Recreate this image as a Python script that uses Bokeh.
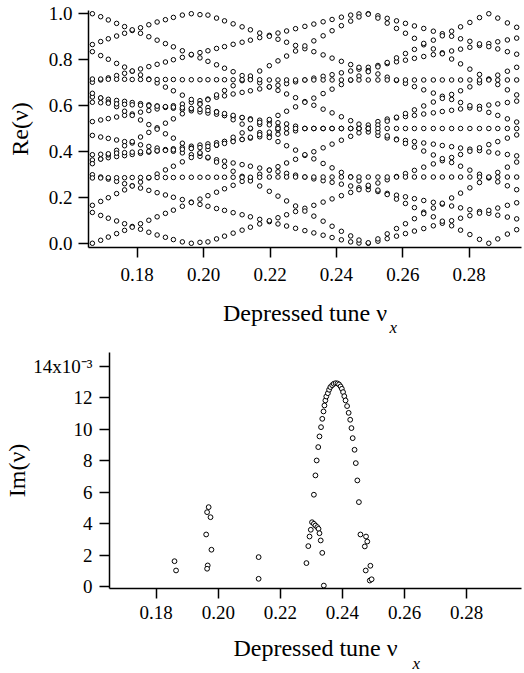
from bokeh.plotting import figure
from bokeh.models import FixedTicker, PrintfTickFormatter, Range1d, Title
from bokeh.embed import file_html
from bokeh.resources import INLINE

FONT = "Liberation Serif"

# ---------------- top panel data: Re(nu) vs depressed tune ----------------
tune_grid = [0.1665, 0.1690, 0.1713, 0.1738, 0.1762, 0.1785, 0.1810, 0.1835, 0.1860, 0.1885,
             0.1909, 0.1936, 0.1963, 0.1989, 0.2013, 0.2039, 0.2063, 0.2089, 0.2116, 0.2141,
             0.2169, 0.2198, 0.2224, 0.2250, 0.2277, 0.2305, 0.2332, 0.2360, 0.2387, 0.2415,
             0.2443, 0.2468, 0.2496, 0.2525, 0.2553, 0.2581, 0.2608, 0.2635, 0.2663, 0.2692,
             0.2719, 0.2747, 0.2774, 0.2802, 0.2831, 0.2859, 0.2886, 0.2915, 0.2943]

re_mode2a = [0.363, 0.368, 0.373, 0.378, 0.382, 0.387, 0.392, 0.397, 0.402, 0.407,
             0.412, 0.417, 0.423, 0.428, 0.433, 0.438, 0.443, 0.448, 0.453, 0.458,
             0.464, 0.470, 0.475, 0.480, 0.490, 0.500, 0.500, 0.500, 0.500, 0.500,
             0.500, 0.500, 0.515, 0.530, 0.541, 0.546, 0.552, 0.557, 0.563, 0.568,
             0.574, 0.579, 0.585, 0.590, 0.596, 0.602, 0.607, 0.613, 0.619]
re_mode2b = [0.637, 0.632, 0.627, 0.622, 0.618, 0.613, 0.608, 0.603, 0.598, 0.593,
             0.588, 0.583, 0.577, 0.572, 0.567, 0.562, 0.557, 0.552, 0.547, 0.542,
             0.536, 0.530, 0.525, 0.520, 0.510, 0.500, 0.500, 0.500, 0.500, 0.500,
             0.500, 0.500, 0.485, 0.470, 0.459, 0.454, 0.448, 0.443, 0.437, 0.432,
             0.426, 0.421, 0.415, 0.410, 0.404, 0.398, 0.393, 0.387, 0.381]
re_mode3a = [0.530, 0.537, 0.543, 0.550, 0.557, 0.563, 0.571, 0.578, 0.585, 0.592,
             0.599, 0.606, 0.614, 0.621, 0.628, 0.636, 0.642, 0.650, 0.657, 0.664,
             0.672, 0.681, 0.688, 0.695, 0.703, 0.711, 0.719, 0.727, 0.734, 0.742,
             0.750, 0.758, 0.766, 0.774, 0.782, 0.790, 0.797, 0.805, 0.813, 0.821,
             0.829, 0.837, 0.845, 0.853, 0.861, 0.869, 0.877, 0.885, 0.893]
re_mode3b = [0.470, 0.463, 0.457, 0.450, 0.443, 0.437, 0.429, 0.422, 0.415, 0.408,
             0.401, 0.394, 0.386, 0.379, 0.372, 0.364, 0.358, 0.350, 0.343, 0.336,
             0.328, 0.319, 0.312, 0.305, 0.297, 0.289, 0.281, 0.273, 0.266, 0.258,
             0.250, 0.242, 0.234, 0.226, 0.218, 0.210, 0.203, 0.195, 0.187, 0.179,
             0.171, 0.163, 0.155, 0.147, 0.139, 0.131, 0.123, 0.115, 0.107]
re_mode4a = [0.701, 0.711, 0.720, 0.730, 0.740, 0.749, 0.759, 0.769, 0.779, 0.789,
             0.799, 0.809, 0.820, 0.830, 0.838, 0.848, 0.856, 0.866, 0.875, 0.884,
             0.895, 0.905, 0.915, 0.924, 0.934, 0.944, 0.954, 0.964, 0.974, 0.984,
             0.993, 0.998, 0.999, 0.010, 0.021, 0.032, 0.043, 0.054, 0.065, 0.077,
             0.088, 0.099, 0.110, 0.121, 0.132, 0.144, 0.154, 0.166, 0.177]
re_mode4b = [0.299, 0.289, 0.280, 0.270, 0.260, 0.251, 0.241, 0.231, 0.221, 0.211,
             0.201, 0.191, 0.180, 0.170, 0.162, 0.152, 0.144, 0.134, 0.125, 0.116,
             0.105, 0.095, 0.085, 0.076, 0.066, 0.056, 0.046, 0.036, 0.026, 0.016,
             0.007, 0.002, 0.001, 0.990, 0.979, 0.968, 0.957, 0.946, 0.935, 0.923,
             0.912, 0.901, 0.890, 0.879, 0.868, 0.856, 0.846, 0.834, 0.823]
re_mode5a = [0.865, 0.878, 0.890, 0.902, 0.914, 0.926, 0.938, 0.951, 0.963, 0.973,
             0.983, 0.993, 0.999, 0.995, 0.007, 0.020, 0.032, 0.045, 0.058, 0.071,
             0.085, 0.099, 0.112, 0.125, 0.139, 0.153, 0.166, 0.180, 0.194, 0.208,
             0.222, 0.234, 0.248, 0.263, 0.277, 0.291, 0.304, 0.318, 0.332, 0.346,
             0.360, 0.374, 0.387, 0.401, 0.416, 0.430, 0.443, 0.458, 0.472]
re_mode5b = [0.135, 0.122, 0.110, 0.098, 0.086, 0.074, 0.062, 0.049, 0.037, 0.027,
             0.017, 0.007, 0.001, 0.005, 0.993, 0.980, 0.968, 0.955, 0.942, 0.929,
             0.915, 0.901, 0.888, 0.875, 0.861, 0.847, 0.834, 0.820, 0.806, 0.792,
             0.778, 0.766, 0.752, 0.737, 0.723, 0.709, 0.696, 0.682, 0.668, 0.654,
             0.640, 0.626, 0.613, 0.599, 0.584, 0.570, 0.557, 0.542, 0.528]
re_mode6a = [0.999, 0.014, 0.028, 0.043, 0.057, 0.071, 0.086, 0.101, 0.116, 0.131,
             0.145, 0.162, 0.178, 0.193, 0.208, 0.223, 0.238, 0.253, 0.270, 0.285,
             0.301, 0.319, 0.334, 0.350, 0.366, 0.383, 0.399, 0.416, 0.432, 0.449,
             0.466, 0.481, 0.498, 0.515, 0.532, 0.549, 0.565, 0.581, 0.598, 0.615,
             0.631, 0.648, 0.664, 0.681, 0.699, 0.715, 0.732, 0.749, 0.766]
re_mode6b = [0.001, 0.986, 0.972, 0.957, 0.943, 0.929, 0.914, 0.899, 0.884, 0.869,
             0.855, 0.838, 0.822, 0.807, 0.792, 0.777, 0.762, 0.747, 0.730, 0.715,
             0.699, 0.681, 0.666, 0.650, 0.634, 0.617, 0.601, 0.584, 0.568, 0.551,
             0.534, 0.519, 0.502, 0.485, 0.468, 0.451, 0.435, 0.419, 0.402, 0.385,
             0.369, 0.352, 0.336, 0.319, 0.301, 0.285, 0.268, 0.251, 0.234]
re_mode7a = [0.166, 0.183, 0.199, 0.217, 0.233, 0.250, 0.267, 0.285, 0.302, 0.320,
             0.336, 0.355, 0.374, 0.392, 0.409, 0.427, 0.444, 0.462, 0.481, 0.499,
             0.518, 0.539, 0.557, 0.575, 0.594, 0.614, 0.632, 0.652, 0.671, 0.691,
             0.710, 0.728, 0.747, 0.768, 0.787, 0.807, 0.826, 0.844, 0.864, 0.884,
             0.903, 0.923, 0.942, 0.961, 0.982, 0.001, 0.020, 0.041, 0.060]
re_mode7b = [0.834, 0.817, 0.801, 0.783, 0.767, 0.750, 0.733, 0.715, 0.698, 0.680,
             0.664, 0.645, 0.626, 0.608, 0.591, 0.573, 0.556, 0.538, 0.519, 0.501,
             0.482, 0.461, 0.443, 0.425, 0.406, 0.386, 0.368, 0.348, 0.329, 0.309,
             0.290, 0.272, 0.253, 0.232, 0.213, 0.193, 0.174, 0.156, 0.136, 0.116,
             0.097, 0.077, 0.058, 0.039, 0.018, 0.999, 0.980, 0.959, 0.940]
re_mode8a = [0.347, 0.367, 0.385, 0.405, 0.425, 0.443, 0.463, 0.483, 0.503, 0.523,
             0.542, 0.564, 0.585, 0.606, 0.625, 0.646, 0.665, 0.686, 0.708, 0.728,
             0.750, 0.773, 0.794, 0.815, 0.837, 0.859, 0.881, 0.903, 0.925, 0.947,
             0.967, 0.985, 0.997, 0.020, 0.042, 0.065, 0.086, 0.108, 0.130, 0.154,
             0.175, 0.198, 0.219, 0.242, 0.265, 0.287, 0.309, 0.332, 0.354]
re_mode8b = [0.653, 0.633, 0.615, 0.595, 0.575, 0.557, 0.537, 0.517, 0.497, 0.477,
             0.458, 0.436, 0.415, 0.394, 0.375, 0.354, 0.335, 0.314, 0.292, 0.272,
             0.250, 0.227, 0.206, 0.185, 0.163, 0.141, 0.119, 0.097, 0.075, 0.053,
             0.033, 0.015, 0.003, 0.980, 0.958, 0.935, 0.914, 0.892, 0.870, 0.846,
             0.825, 0.802, 0.781, 0.758, 0.735, 0.713, 0.691, 0.668, 0.646]
re_flat_a = [0.614, 0.612, 0.610, 0.607, 0.605, 0.603, 0.601, 0.599, 0.597, 0.595,
             0.593, 0.590, 0.587, 0.583, 0.578, 0.572, 0.565, 0.557, 0.548, 0.538,
             0.527, 0.516, 0.506] + [None] * 26
re_flat_b = [0.386, 0.388, 0.390, 0.393, 0.395, 0.397, 0.399, 0.401, 0.403, 0.405,
             0.407, 0.410, 0.413, 0.417, 0.422, 0.428, 0.435, 0.443, 0.452, 0.462,
             0.473, 0.484, 0.494] + [None] * 26
re_row_hi = [0.715, 0.715, 0.714, 0.714, 0.714, 0.713, 0.713, 0.713, 0.713, 0.713,
             0.713, 0.712, 0.712, 0.712, 0.712, 0.712, 0.712, 0.712, 0.712, 0.712,
             0.712, 0.711, 0.711, 0.711, 0.711, 0.711, 0.711, 0.711, 0.711, 0.711,
             0.711, 0.711, 0.711, 0.711, 0.711, 0.711, 0.711, 0.711, 0.711, 0.711,
             0.711, 0.711, 0.711, 0.711, 0.711, 0.711, 0.711, 0.711, 0.711]
re_row_lo = [0.285, 0.285, 0.286, 0.286, 0.286, 0.287, 0.287, 0.287, 0.287, 0.287,
             0.287, 0.288, 0.288, 0.288, 0.288, 0.288, 0.288, 0.288, 0.288, 0.288,
             0.288, 0.289, 0.289, 0.289, 0.289, 0.289, 0.289, 0.289, 0.289, 0.289,
             0.289, 0.289, 0.289, 0.289, 0.289, 0.289, 0.289, 0.289, 0.289, 0.289,
             0.289, 0.289, 0.289, 0.289, 0.289, 0.289, 0.289, 0.289, 0.289]
re_row_mid = [None] * 22 + [0.500, 0.500, 0.500, 0.500, 0.500, 0.500, 0.500, 0.500, 0.500,
              0.500, 0.500, 0.500, 0.500, 0.500, 0.500, 0.500, 0.500, 0.500, 0.500,
              0.500, 0.500, 0.500, 0.500, 0.500, 0.500, 0.500, 0.500]

re_series = [re_mode2a, re_mode2b, re_mode3a, re_mode3b, re_mode4a, re_mode4b,
             re_mode5a, re_mode5b, re_mode6a, re_mode6b, re_mode7a, re_mode7b,
             re_mode8a, re_mode8b, re_flat_a, re_flat_b, re_row_hi, re_row_lo, re_row_mid]

# ---------------- bottom panel data: Im(nu) (units of 1e-3) ----------------
im_tune = [0.1859, 0.1864,
           0.1969, 0.1964, 0.1975, 0.1961, 0.1978, 0.1966, 0.1964,
           0.2130, 0.2130,
           0.2284, 0.2290, 0.2294, 0.2298, 0.2302, 0.2308, 0.2313, 0.2319, 0.2323,
           0.2326, 0.2330, 0.2335, 0.2340,
           0.2308, 0.2313, 0.2317, 0.2322, 0.2326, 0.2331, 0.2335, 0.2339, 0.2342,
           0.2345, 0.2348, 0.2353, 0.2357, 0.2361, 0.2367, 0.2372, 0.2378, 0.2384,
           0.2389, 0.2394, 0.2398, 0.2402, 0.2406, 0.2410, 0.2415, 0.2420, 0.2425,
           0.2429, 0.2433, 0.2439, 0.2443, 0.2448, 0.2453,
           0.2458, 0.2476, 0.2480, 0.2472, 0.2490, 0.2475, 0.2488, 0.2494]
im_value = [1.61, 1.02,
            5.05, 4.73, 4.41, 3.31, 2.34, 1.34, 1.13,
            1.87, 0.49,
            1.49, 2.57, 3.18, 3.61, 4.09, 3.99, 3.88, 3.78, 3.67,
            3.39, 2.93, 2.14, 0.06,
            5.84, 7.07, 8.02, 8.87, 9.55, 10.14, 10.67, 11.14, 11.52,
            11.84, 12.09, 12.30, 12.52, 12.69, 12.81, 12.90, 12.94, 12.92,
            12.86, 12.73, 12.58, 12.37, 12.11, 11.84, 11.48, 11.05, 10.61,
            10.08, 9.44, 8.70, 7.85, 6.75, 5.37,
            3.31, 3.18, 2.86, 2.55, 1.32, 1.02, 0.38, 0.46]

x_ticks = [0.18, 0.20, 0.22, 0.24, 0.26, 0.28]
re_ticks = [0.0, 0.2, 0.4, 0.6, 0.8, 1.0]
im_ticks = [0, 2, 4, 6, 8, 10, 12, 14]


def style_axes(p):
    for ax in (p.xaxis[0], p.yaxis[0]):
        ax.axis_line_width = 1.5
        ax.axis_line_color = "black"
        ax.major_tick_line_width = 1.5
        ax.major_tick_line_color = "black"
        ax.major_tick_out = 10
        ax.major_tick_in = 0
        ax.minor_tick_line_color = None
        ax.major_label_text_font = FONT
        ax.major_label_text_font_size = "19px"
        ax.major_label_text_color = "black"
        ax.axis_label_text_font = FONT
        ax.axis_label_text_font_size = "24px"
        ax.axis_label_text_font_style = "normal"
        ax.axis_label_text_color = "black"
    p.xgrid.visible = False
    p.ygrid.visible = False
    p.outline_line_color = None
    p.background_fill_color = "white"
    p.border_fill_color = "white"


def subscript(offset, standoff):
    return Title(text="x", align="left", offset=offset, standoff=standoff,
                 vertical_align="top", text_font=FONT, text_font_size="17px",
                 text_font_style="italic", text_color="black")


# ---------------- top figure ----------------
p1 = figure(width=524, height=340,
            x_range=Range1d(0.16533, 0.29575), y_range=Range1d(-0.0174, 1.013),
            output_backend="svg", toolbar_location=None,
            min_border_left=88, min_border_right=3, min_border_top=10, min_border_bottom=93)
style_axes(p1)
p1.xaxis.ticker = FixedTicker(ticks=x_ticks)
p1.xaxis.formatter = PrintfTickFormatter(format="%.2f")
p1.yaxis.ticker = FixedTicker(ticks=re_ticks)
p1.yaxis.formatter = PrintfTickFormatter(format="%.1f")
p1.xaxis.major_label_standoff = 10
p1.yaxis.major_label_standoff = 6
p1.xaxis.axis_label = "Depressed tune \u03bd"
p1.yaxis.axis_label = "Re(\u03bd)"
p1.xaxis.axis_label_standoff = 16
p1.yaxis.axis_label_standoff = 13
p1.add_layout(subscript(301, -22), "below")

xs, ys = [], []
for series in re_series:
    for t, v in zip(tune_grid, series):
        if v is not None:
            xs.append(t)
            ys.append(v)
p1.scatter(xs, ys, marker="circle", size=4.5, fill_color="white",
           line_color="black", line_width=1)

# ---------------- bottom figure ----------------
p2 = figure(width=524, height=333,
            x_range=Range1d(0.16496, 0.29768), y_range=Range1d(-0.127, 14.89),
            output_backend="svg", toolbar_location=None,
            min_border_left=109, min_border_right=3, min_border_top=12, min_border_bottom=85)
style_axes(p2)
p2.xaxis.ticker = FixedTicker(ticks=x_ticks)
p2.xaxis.formatter = PrintfTickFormatter(format="%.2f")
p2.yaxis.ticker = FixedTicker(ticks=im_ticks)
p2.yaxis.major_label_overrides = {14: "14x10\u207b\u00b3"}
p2.xaxis.major_label_standoff = 7
p2.yaxis.major_label_standoff = 7
p2.xaxis.axis_label = "Depressed tune \u03bd"
p2.yaxis.axis_label = "Im(\u03bd)"
p2.xaxis.axis_label_standoff = 13
p2.yaxis.axis_label_standoff = 0
p2.add_layout(subscript(303, -20), "below")

p2.scatter(im_tune, im_value, marker="circle", size=4.8, fill_color="white",
           line_color="black", line_width=1)

open("out.html", "w").write(file_html((p1, p2), INLINE))
